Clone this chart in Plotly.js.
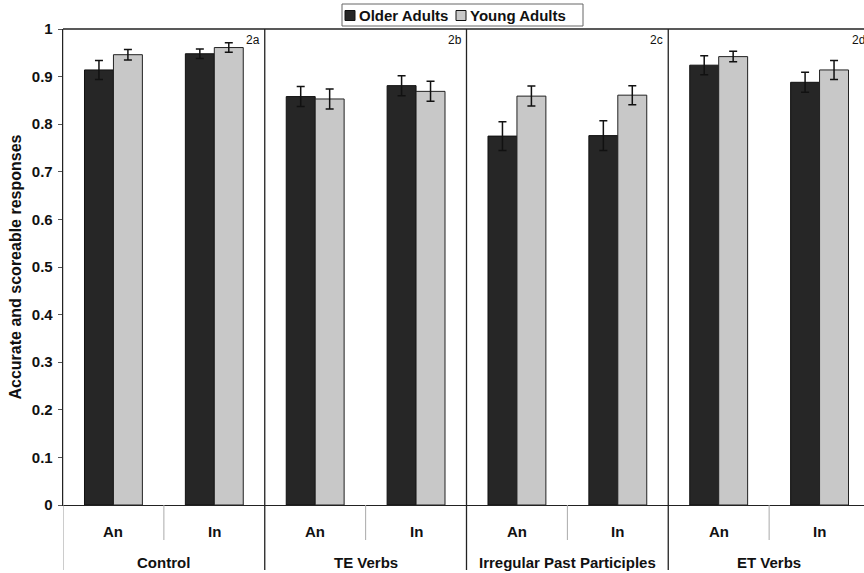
<!DOCTYPE html>
<html>
<head>
<meta charset="utf-8">
<script src="https://cdn.plot.ly/plotly-3.0.1.min.js"></script>
<style>
html,body{margin:0;padding:0;overflow:hidden;background:#fff;}
#chart{width:874px;height:573px;}
</style>
</head>
<body>
<div id="chart"></div>
<script>
const groups = ["Control", "TE Verbs", "Irregular Past Participles", "ET Verbs"];
const subLabels = ["An", "In"];
const panelTags = ["2a", "2b", "2c", "2d"];
const seriesNames = ["Older Adults", "Young Adults"];
const seriesColors = ["#262626", "#c8c8c8"];
const olderValues = [0.914, 0.948, 0.858, 0.881, 0.775, 0.776, 0.924, 0.888];
const youngValues = [0.946, 0.961, 0.853, 0.869, 0.859, 0.861, 0.942, 0.914];
const olderErr = [0.020, 0.010, 0.021, 0.021, 0.030, 0.031, 0.020, 0.021];
const youngErr = [0.011, 0.010, 0.021, 0.021, 0.021, 0.020, 0.011, 0.020];
const yTicks = [0, 0.1, 0.2, 0.3, 0.4, 0.5, 0.6, 0.7, 0.8, 0.9, 1];
const yTickText = ["0", "0.1", "0.2", "0.3", "0.4", "0.5", "0.6", "0.7", "0.8", "0.9", "1"];

const xIdx = olderValues.map((_, i) => i);
const FONT = "Liberation Sans, Arial, sans-serif";

const traces = [
  {
    type: "bar", name: seriesNames[0], x: xIdx, y: olderValues,
    marker: {color: seriesColors[0], line: {color: "#111", width: 1}},
    error_y: {type: "data", array: olderErr, visible: true, color: "#111", thickness: 1.5, width: 4}
  },
  {
    type: "bar", name: seriesNames[1], x: xIdx, y: youngValues,
    marker: {color: seriesColors[1], line: {color: "#222", width: 1}},
    error_y: {type: "data", array: youngErr, visible: true, color: "#111", thickness: 1.5, width: 4}
  }
];

const plotL = 63, plotW = 807, plotTop = 29, plotBot = 505;
const plotH = plotBot - plotTop;
const px = v => (v - plotL) / plotW;
const py = v => (plotBot - v) / plotH;

const shapes = [];
const annotations = [];
const nSub = subLabels.length;
groups.forEach((g, gi) => {
  const left = gi * nSub - 0.5;
  const right = left + nSub;
  shapes.push({type: "line", xref: "x", yref: "paper", x0: left, x1: left, y0: py(570), y1: 1,
    line: {color: gi === 0 ? "#999" : "#222", width: gi === 0 ? 1 : 1.3}});
  for (let s = 1; s < nSub; s++) {
    shapes.push({type: "line", xref: "x", yref: "paper", x0: left + s, x1: left + s, y0: py(540), y1: 0,
      line: {color: "#aaa", width: 1}});
  }
  subLabels.forEach((s, si) => {
    annotations.push({xref: "x", yref: "paper", x: gi * nSub + si, y: py(531), text: "<b>" + s + "</b>",
      showarrow: false, font: {family: FONT, size: 15, color: "#111"}, yanchor: "middle"});
  });
  annotations.push({xref: "x", yref: "paper", x: left + nSub / 2, y: py(562), text: "<b>" + g + "</b>",
    showarrow: false, font: {family: FONT, size: 15, color: "#111"}, yanchor: "middle"});
  annotations.push({xref: "x", yref: "paper", x: right, y: py(40), text: panelTags[gi],
    showarrow: false, xanchor: "right", xshift: -3, font: {family: FONT, size: 12, color: "#111"}, yanchor: "middle"});
});
shapes.push({type: "line", xref: "paper", yref: "paper", x0: 0, x1: 1, y0: 1, y1: 1, line: {color: "#222", width: 1.3}});

// compact legend box (drawn manually)
shapes.push({type: "rect", xref: "paper", yref: "paper", x0: px(342), x1: px(583), y0: py(26), y1: py(4),
  line: {color: "#666", width: 1}, fillcolor: "#fff"});
const legendX = [345, 456];
seriesNames.forEach((n, i) => {
  shapes.push({type: "rect", xref: "paper", yref: "paper", x0: px(legendX[i]), x1: px(legendX[i] + 10),
    y0: py(20.5), y1: py(10.5), fillcolor: seriesColors[i], line: {color: "#111", width: 1}});
  annotations.push({xref: "paper", yref: "paper", x: px(legendX[i] + 12), y: py(15.5), xanchor: "left", yanchor: "middle",
    text: "<b>" + n + "</b>", showarrow: false, font: {family: FONT, size: 15, color: "#111"}});
});

const layout = {
  width: 874, height: 573,
  margin: {l: plotL, r: 874 - plotL - plotW, t: plotTop, b: 573 - plotBot},
  paper_bgcolor: "#fff", plot_bgcolor: "#fff",
  font: {family: FONT, color: "#111"},
  barmode: "group", bargap: 0.426, bargroupgap: 0,
  showlegend: false,
  xaxis: {
    range: [-0.5, 7.5], showticklabels: false, ticks: "", showgrid: false, zeroline: false,
    showline: true, linecolor: "#222", linewidth: 1.3, fixedrange: true
  },
  yaxis: {
    range: [0, 1], tickvals: yTicks, ticktext: yTickText.map(t => "<b>" + t + "</b>"),
    ticks: "outside", ticklen: 4, tickcolor: "#555", showgrid: false, zeroline: false,
    showline: true, linecolor: "#222", linewidth: 1.3, ticklabelstandoff: 2,
    tickfont: {family: FONT, size: 15, color: "#111"},
    title: {text: "<b>Accurate and scoreable responses</b>", font: {family: FONT, size: 16, color: "#111"}, standoff: 6}
  },
  shapes: shapes,
  annotations: annotations
};

Plotly.newPlot("chart", traces, layout, {staticPlot: true, displayModeBar: false});
</script>
</body>
</html>
